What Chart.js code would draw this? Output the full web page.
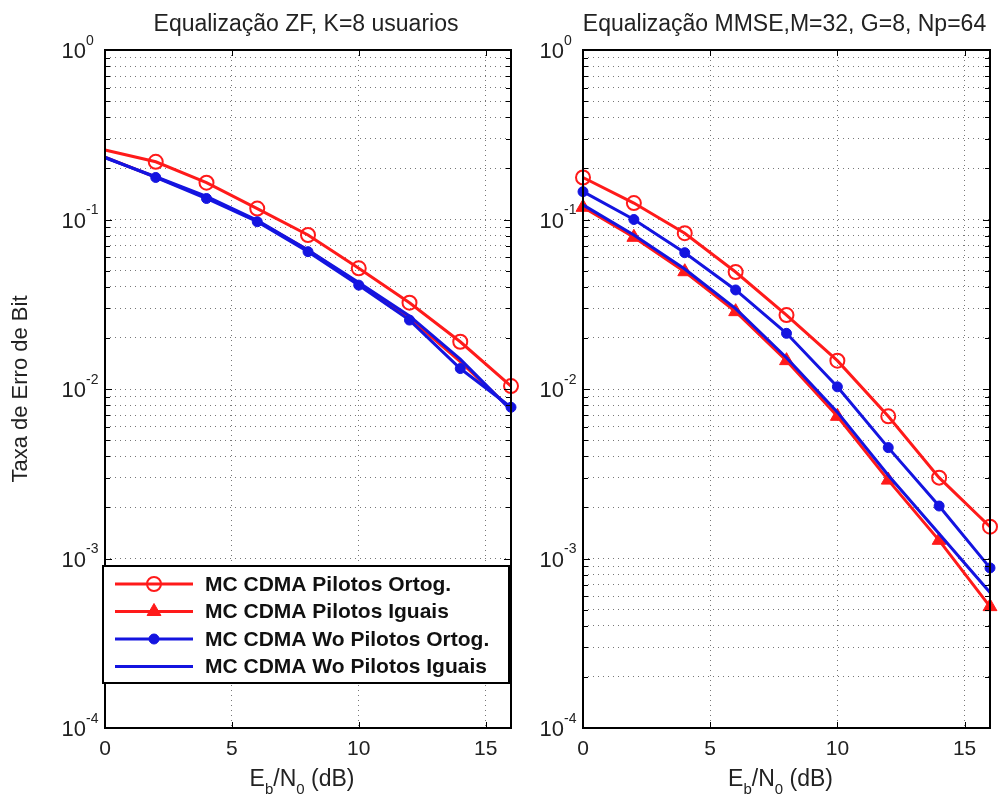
<!DOCTYPE html>
<html>
<head>
<meta charset="utf-8">
<script src="https://cdn.jsdelivr.net/npm/chart.js"></script>
<style>
  body { margin: 0; background: #fff; }
  #wrapZF { position: absolute; left: 0; top: 0; }
  #wrapMM { position: absolute; left: 520px; top: 0; }
</style>
</head>
<body>
<div id="wrapZF"><canvas id="chartZF" width="520" height="802"></canvas></div>
<div id="wrapMM"><canvas id="chartMM" width="481" height="802"></canvas></div>
<script>
// Eb/N0 (dB) values
var snr = [0, 2, 4, 6, 8, 10, 12, 14, 16];
var xTickVals = [0, 5, 10, 15];
var yExponents = [0, -1, -2, -3, -4];

// left panel: ZF, K=8 usuarios
var zfPilOrt = [0.257, 0.219, 0.165, 0.116, 0.081, 0.0515, 0.0323, 0.0190, 0.0104];
var zfPilIg  = [0.233, 0.178, 0.135, 0.098, 0.066, 0.0415, 0.0262, 0.0145, 0.0076];
var zfWoOrt  = [0.233, 0.177, 0.133, 0.097, 0.0646, 0.0410, 0.0255, 0.0132, 0.0078];
var zfWoIg   = [0.231, 0.179, 0.137, 0.099, 0.066, 0.0425, 0.0270, 0.0150, 0.0075];

// right panel: MMSE, M=32, G=8, Np=64
var mmPilOrt = [0.177, 0.125, 0.083, 0.049, 0.0273, 0.0147, 0.0069, 0.0030, 0.00154];
var mmPilIg  = [0.118, 0.0785, 0.0492, 0.0286, 0.0147, 0.0069, 0.0029, 0.00128, 0.00052];
var mmWoOrt  = [0.146, 0.100, 0.0637, 0.0384, 0.0213, 0.0103, 0.00451, 0.00204, 0.00088];
var mmWoIg   = [0.122, 0.081, 0.051, 0.0298, 0.0153, 0.0073, 0.0031, 0.00140, 0.00063];

var labels = ['MC CDMA Pilotos Ortog.', 'MC CDMA Pilotos Iguais', 'MC CDMA Wo Pilotos Ortog.', 'MC CDMA Wo Pilotos Iguais'];
var RED = '#ff1a1a', BLUE = '#1414e0';
var styles = [
  { color: RED,  fill: 'rgba(0,0,0,0)', pointStyle: 'circle',   radius: 7, bw: 2 },
  { color: RED,  fill: RED,             pointStyle: 'triangle', radius: 8, bw: 1 },
  { color: BLUE, fill: BLUE,            pointStyle: 'circle',   radius: 5, bw: 1 },
  { color: BLUE, fill: BLUE,            pointStyle: 'circle',   radius: 0, bw: 0 }
];

function makeDatasets(series, isZF) {
  return series.map(function(vals, i) {
    var s = styles[i];
    return {
      label: labels[i],
      data: vals.map(function(v, k) { return { x: snr[k], y: v }; }),
      borderColor: s.color,
      backgroundColor: s.fill,
      pointBorderColor: s.color,
      pointBackgroundColor: s.fill,
      pointStyle: s.pointStyle,
      pointRadius: function(ctx) {
        // in the ZF panel the marks at 0 dB and the triangles are hidden under the blue curves
        if (isZF && (ctx.dataIndex === 0 || i === 1)) return 0;
        return s.radius;
      },
      pointBorderWidth: s.bw,
      borderWidth: 3,
      tension: 0,
      clip: false,
      order: 3 - i
    };
  });
}

// title, frame, inner ticks, y labels with exponents, x title with subscripts
var decoPlugin = {
  id: 'deco',
  afterDatasetsDraw: function(chart) {
    var ctx = chart.ctx, a = chart.chartArea;
    var ys = chart.scales.y, xs = chart.scales.x;
    var cx = (a.left + a.right) / 2;
    ctx.save();
    ctx.strokeStyle = '#000';
    ctx.lineWidth = 1;
    ys.ticks.forEach(function(t) {
      var y = Math.round(ys.getPixelForValue(t.value)) + 0.5;
      var len = Number.isInteger(Math.log10(t.value)) ? 7 : 5;
      ctx.beginPath();
      ctx.moveTo(a.left, y); ctx.lineTo(a.left + len, y);
      ctx.moveTo(a.right, y); ctx.lineTo(a.right - len, y);
      ctx.stroke();
    });
    xTickVals.forEach(function(v) {
      var x = Math.round(xs.getPixelForValue(v)) + 0.5;
      ctx.beginPath();
      ctx.moveTo(x, a.top); ctx.lineTo(x, a.top + 6);
      ctx.moveTo(x, a.bottom); ctx.lineTo(x, a.bottom - 6);
      ctx.stroke();
    });
    ctx.lineWidth = 2;
    ctx.strokeRect(a.left, a.top, a.right - a.left, a.bottom - a.top);

    // panel title
    ctx.fillStyle = '#222';
    ctx.font = '23px Arial';
    ctx.textAlign = 'center';
    ctx.textBaseline = 'middle';
    ctx.fillText(chart.options.plugins.panelTitle, cx - 2, 25);

    // y tick labels 10^n
    yExponents.forEach(function(p) {
      var y = ys.getPixelForValue(Math.pow(10, p));
      ctx.font = '22px Arial';
      ctx.textAlign = 'right';
      ctx.textBaseline = 'middle';
      ctx.fillText('10', a.left - 19, y + 2);
      ctx.font = '14px Arial';
      ctx.textAlign = 'left';
      ctx.fillText(p === 0 ? '0' : '-' + Math.abs(p), a.left - 19, y - 9);
    });

    // x title E_b/N_0 (dB)
    var parts = [['E', 23, 0], ['b', 15, 8], ['/N', 23, 0], ['0', 15, 8], [' (dB)', 23, 0]];
    var total = 0;
    parts.forEach(function(pt) { ctx.font = pt[1] + 'px Arial'; total += ctx.measureText(pt[0]).width; });
    var x = cx - total / 2 - 6;
    ctx.textAlign = 'left';
    ctx.textBaseline = 'alphabetic';
    parts.forEach(function(pt) {
      ctx.font = pt[1] + 'px Arial';
      ctx.fillText(pt[0], x, 786 + pt[2]);
      x += ctx.measureText(pt[0]).width;
    });
    ctx.restore();
  }
};

// legend box inside the left axes
var legendPlugin = {
  id: 'innerLegend',
  afterDraw: function(chart) {
    if (!chart.options.plugins.innerLegend) return;
    var ctx = chart.ctx;
    var box = { x: 103, y: 566, w: 406, h: 117 };
    ctx.save();
    ctx.fillStyle = '#fff';
    ctx.fillRect(box.x, box.y, box.w, box.h);
    ctx.strokeStyle = '#000';
    ctx.lineWidth = 2;
    ctx.strokeRect(box.x, box.y, box.w, box.h);
    chart.data.datasets.forEach(function(ds, i) {
      var s = styles[i];
      var y = 584 + i * 27.5;
      ctx.strokeStyle = s.color;
      ctx.lineWidth = 3;
      ctx.beginPath();
      ctx.moveTo(115, y); ctx.lineTo(193, y);
      ctx.stroke();
      if (s.radius > 0) {
        ctx.fillStyle = s.fill;
        ctx.lineWidth = s.bw;
        Chart.helpers.drawPoint(ctx, { pointStyle: s.pointStyle, rotation: 0, radius: s.radius, borderWidth: s.bw }, 154, y);
      }
      ctx.fillStyle = '#111';
      ctx.font = 'bold 21px Arial';
      ctx.textAlign = 'left';
      ctx.textBaseline = 'middle';
      ctx.fillText(ds.label, 205, y + 1);
    });
    ctx.restore();
  }
};

function buildChart(id, title, datasets, yWidth, padRight, showYTitle, withLegend) {
  return new Chart(document.getElementById(id), {
    type: 'line',
    data: { datasets: datasets },
    plugins: [decoPlugin, legendPlugin],
    options: {
      responsive: false,
      animation: false,
      layout: { padding: { left: 0, right: padRight, top: 50, bottom: 0 } },
      plugins: {
        legend: { display: false },
        tooltip: { enabled: false },
        innerLegend: withLegend,
        panelTitle: title
      },
      scales: {
        x: {
          type: 'linear',
          min: 0,
          max: 16,
          afterBuildTicks: function(scale) { scale.ticks = xTickVals.map(function(v) { return { value: v }; }); },
          afterFit: function(scale) { scale.height = 74; },
          ticks: { color: '#222', font: { family: 'Arial', size: 21 }, padding: 9, maxRotation: 0 },
          grid: { color: '#777', lineWidth: 1, drawTicks: false },
          border: { display: false, dash: [1, 4] }
        },
        y: {
          type: 'logarithmic',
          min: 1e-4,
          max: 1,
          afterBuildTicks: function(scale) {
            var t = [];
            for (var p = -4; p < 0; p++) {
              for (var m = 1; m <= 9; m++) t.push({ value: m * Math.pow(10, p) });
            }
            t.push({ value: 1 });
            scale.ticks = t;
          },
          afterFit: function(scale) { scale.width = yWidth; },
          ticks: { display: false, autoSkip: false },
          grid: { color: '#777', lineWidth: 1, drawTicks: false },
          border: { display: false, dash: [1, 4] },
          title: {
            display: showYTitle,
            text: 'Taxa de Erro de Bit',
            color: '#222',
            font: { family: 'Arial', size: 22 },
            padding: { top: 8, bottom: 0 }
          }
        }
      }
    }
  });
}

buildChart('chartZF', 'Equalização ZF, K=8 usuarios',
  makeDatasets([zfPilOrt, zfPilIg, zfWoOrt, zfWoIg], true), 105, 6, true, true);
buildChart('chartMM', 'Equalização MMSE,M=32, G=8, Np=64',
  makeDatasets([mmPilOrt, mmPilIg, mmWoOrt, mmWoIg], false), 63, 11, false, false);
</script>
</body>
</html>
